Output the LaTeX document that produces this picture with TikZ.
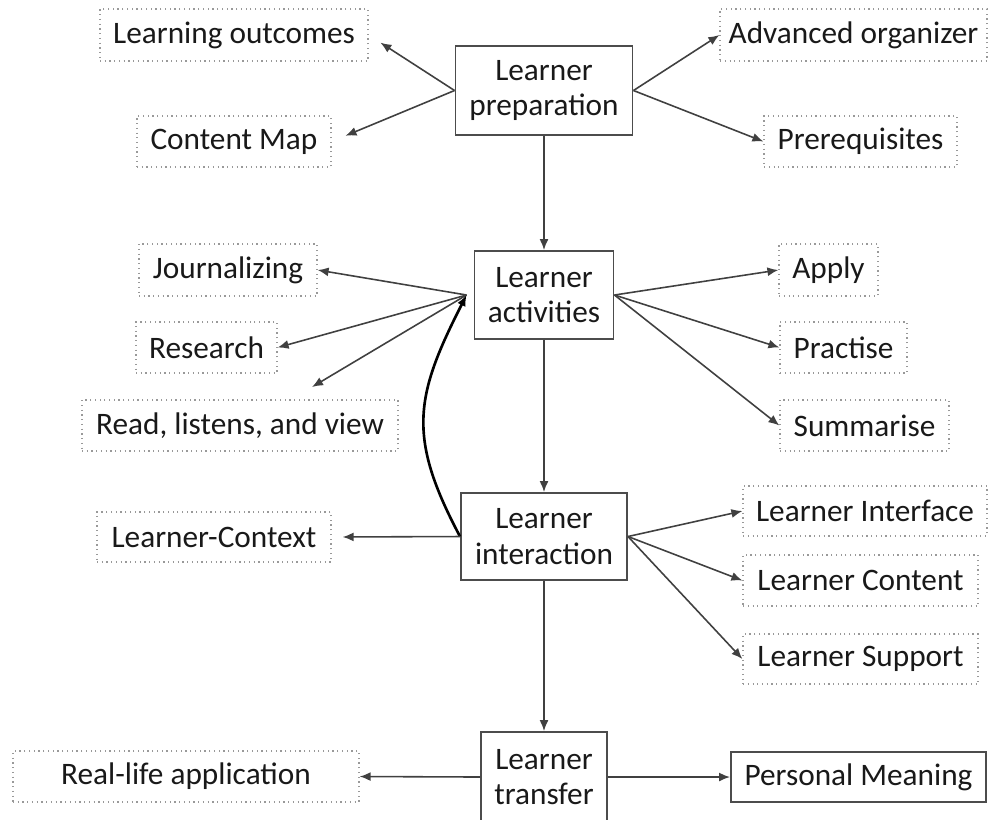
\documentclass[tikz,border=0pt]{standalone}
\usepackage{fontspec}
\setmainfont{Carlito}
\usetikzlibrary{arrows.meta}

\begin{document}
\begin{tikzpicture}[
    every node/.style={font=\fontsize{8.9}{10}\selectfont, text=black!90},
    main/.style={draw=black!70, line width=0.55pt, align=center, inner sep=0pt, minimum height=0.88cm},
    leaf/.style={draw=black!40, densely dotted, line width=0.35pt, inner sep=0pt, minimum height=0.51cm},
    arr/.style={draw=black!75, line width=0.45pt, -{Latex[length=1.1mm,width=0.9mm]}},
    curve/.style={arr, draw=black, line width=0.75pt}
  ]
  \useasboundingbox (0,0) rectangle (9.88,-8.19);
  \node[main, minimum width=1.77cm, minimum height=0.89cm] (prep) at (5.44, -0.905) {Learner\\preparation};
  \node[main, minimum width=1.39cm] (act) at (5.44, -2.95) {Learner\\activities};
  \node[main, minimum width=1.66cm, minimum height=0.87cm] (inter) at (5.44, -5.365) {Learner\\interaction};
  \node[main, minimum width=1.26cm, minimum height=0.9cm] (trans) at (5.44, -7.77) {Learner\\transfer};
  %
  \node[leaf, minimum width=2.68cm, minimum height=0.52cm] (lo) at (2.34, -0.35) {Learning outcomes};
  \node[leaf, minimum width=1.94cm] (cmap) at (2.34, -1.415) {Content Map};
  \node[leaf, minimum width=2.67cm, minimum height=0.52cm] (ao) at (8.535, -0.35) {Advanced organizer};
  \node[leaf, minimum width=1.93cm] (pre) at (8.605, -1.415) {Prerequisites};
  \node[leaf, minimum width=1.78cm, minimum height=0.52cm] (jou) at (2.28, -2.70) {Journalizing};
  \node[leaf, minimum width=1.41cm] (res) at (2.065, -3.475) {Research};
  \node[leaf, minimum width=3.16cm] (read) at (2.40, -4.255) {Read, listens, and view};
  \node[leaf, minimum width=0.99cm, minimum height=0.52cm] (app) at (8.285, -2.70) {Apply};
  \node[leaf, minimum width=1.27cm] (pra) at (8.435, -3.475) {Practise};
  \node[leaf, minimum width=1.69cm] (sum) at (8.645, -4.255) {Summarise};
  \node[leaf, minimum width=2.34cm, minimum height=0.50cm] (ctx) at (2.14, -5.37) {Learner-Context};
  \node[leaf, minimum width=2.44cm, minimum height=0.50cm] (lint) at (8.65, -5.11) {Learner Interface};
  \node[leaf, minimum width=2.35cm] (lcon) at (8.605, -5.805) {Learner Content};
  \node[leaf, minimum width=2.35cm, minimum height=0.50cm] (lsup) at (8.605, -6.59) {Learner Support};
  \node[leaf, minimum width=3.46cm] (real) at (1.86, -7.765) {Real-life application};
  \node[main, minimum width=2.55cm, minimum height=0.50cm] (pm) at (8.585, -7.77) {Personal Meaning};
  %
  \coordinate (actw) at ([xshift=-0.07cm]act.west);
  \coordinate (readtip) at (3.12, -3.87);
  %
  \draw[arr] (prep) -- (act);
  \draw[arr] (act) -- (inter);
  \draw[arr] (inter) -- (trans);
  \draw[arr, shorten >=0.14cm] (prep.west) -- (lo.east);
  \draw[arr, shorten >=0.15cm] (prep.west) -- (cmap.east);
  \draw[arr] (prep.east) -- (ao.west);
  \draw[arr] (prep.east) -- (pre.west);
  \draw[arr] (actw) -- (jou.east);
  \draw[arr] (actw) -- (res.east);
  \draw[arr] (actw) -- (readtip);
  \draw[arr] (act.east) -- (app.west);
  \draw[arr] (act.east) -- (pra.west);
  \draw[arr] (act.east) -- (sum.west);
  \draw[curve] (inter.west) to[out=118, in=243, looseness=1.2] (actw);
  \draw[arr, shorten >=0.11cm] (inter.west) -- (ctx.east);
  \draw[arr] (inter.east) -- (lint.west);
  \draw[arr] (inter.east) -- (lcon.west);
  \draw[arr] (inter.east) -- (lsup.west);
  \draw[arr] (trans.west) -- (real.east);
  \draw[arr] (trans.east) -- (pm.west);
\end{tikzpicture}
\end{document}
